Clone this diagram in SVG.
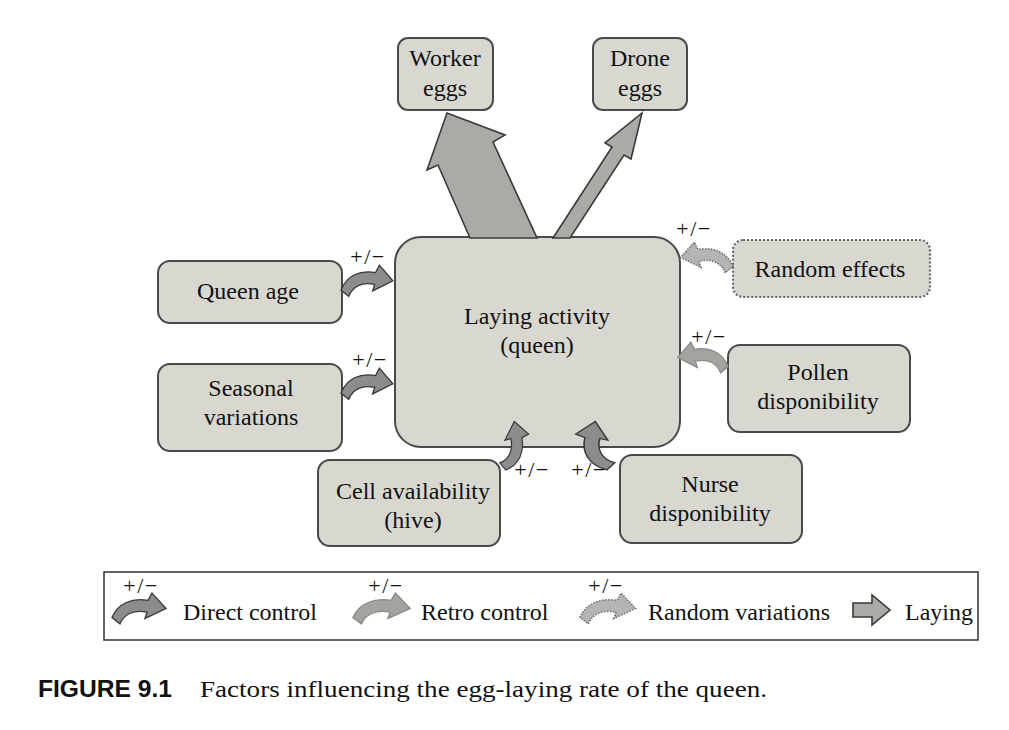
<svg xmlns="http://www.w3.org/2000/svg" width="1009" height="730" viewBox="0 0 1009 730">
<style>
.box{fill:#d8d8d1;stroke:#4a4a4a;stroke-width:2}
.dot{fill:#d8d8d1;stroke:#666;stroke-width:2.2;stroke-dasharray:2 2}
.t{font-family:"Liberation Serif",serif;font-size:24px;fill:#111;text-anchor:middle}
.lt{font-family:"Liberation Serif",serif;font-size:24px;fill:#111}
.pm{font-family:"Liberation Serif",serif;font-size:22px;fill:#111;text-anchor:middle;letter-spacing:1.5px}
.big{fill:#aaaaa6;stroke:#3a3a3a;stroke-width:1.6;stroke-linejoin:miter}
.dc{fill:#8c8c8a;stroke:#3a3a3a;stroke-width:1.4}
.rc{fill:#a3a3a0;stroke:#8a8a88;stroke-width:1.4}
.rv{fill:#b4b4b2;stroke:#6e6e6e;stroke-width:1.8;stroke-dasharray:1.5 1.5}
</style>
<defs>
<path id="ca" d="M0,25 C6,9 20,3 36,6 L40,-2 L54,15 L33,26 L35,19 C22,16 12,21 8,32 Z"/>
</defs>
<rect width="1009" height="730" fill="#fff"/>
<g id="worker-eggs"><rect class="box" x="398" y="38" width="95" height="72" rx="10"/><text class="t" x="445" y="66">Worker</text><text class="t" x="445" y="96">eggs</text></g>
<g id="drone-eggs"><rect class="box" x="593" y="38" width="94" height="72" rx="10"/><text class="t" x="640" y="66">Drone</text><text class="t" x="640" y="96">eggs</text></g>
<g id="laying-activity"><rect class="box" x="395" y="237" width="285" height="210" rx="26"/><text class="t" x="537" y="324">Laying activity</text><text class="t" x="537" y="353">(queen)</text></g>
<g id="queen-age"><rect class="box" x="158" y="261" width="184" height="62" rx="12"/><text class="t" x="248" y="299">Queen age</text></g>
<g id="seasonal-variations"><rect class="box" x="158" y="364" width="184" height="87" rx="12"/><text class="t" x="251" y="396">Seasonal</text><text class="t" x="251" y="425">variations</text></g>
<g id="cell-availability"><rect class="box" x="318" y="460" width="182" height="86" rx="12"/><text class="t" x="413" y="499">Cell availability</text><text class="t" x="413" y="528">(hive)</text></g>
<g id="nurse-disponibility"><rect class="box" x="620" y="455" width="182" height="88" rx="12"/><text class="t" x="710" y="492">Nurse</text><text class="t" x="710" y="521">disponibility</text></g>
<g id="pollen-disponibility"><rect class="box" x="728" y="345" width="182" height="87" rx="12"/><text class="t" x="818" y="380">Pollen</text><text class="t" x="818" y="409">disponibility</text></g>
<g id="random-effects"><rect class="dot" x="733" y="240" width="197" height="57" rx="10"/><text class="t" x="830" y="277">Random effects</text></g>
<g id="connectors">
<polygon class="big" points="470,238 438,165 427,170 447,113 505,135 493,142 537,238"/>
<polygon class="big" points="553,238 612,147 605,143 642,113 631,159 624,155 570,238"/>
<use href="#ca" class="dc" transform="translate(341,267) scale(0.96,0.92)"/>
<use href="#ca" class="dc" transform="translate(341,370) scale(0.96,0.92)"/>
<use href="#ca" class="rv" transform="translate(733,244) scale(-0.97,0.9)"/>
<use href="#ca" class="rc" transform="translate(728,344) scale(-0.93,0.9)"/>
<use href="#ca" class="dc" transform="matrix(0,-0.9,-0.85,0,527,470)"/>
<use href="#ca" class="dc" transform="matrix(0,-0.9,1.15,0,578,470)"/>
<text class="pm" x="532" y="477">+/−</text>
<text class="pm" x="589" y="477">+/−</text>
<text class="pm" x="368" y="264">+/−</text>
<text class="pm" x="370" y="367">+/−</text>
<text class="pm" x="694" y="236">+/−</text>
<text class="pm" x="709" y="344">+/−</text>
</g>
<g id="legend">
<rect x="104" y="572" width="874" height="68" fill="#fff" stroke="#333" stroke-width="1.5"/>
<use href="#ca" class="dc" transform="translate(112,595) scale(1.0,0.9)"/>
<text class="pm" x="141" y="593">+/−</text>
<text class="lt" x="183" y="620">Direct control</text>
<use href="#ca" class="rc" transform="translate(353,595) scale(1.06,0.9)"/>
<text class="pm" x="386" y="593">+/−</text>
<text class="lt" x="421" y="620">Retro control</text>
<use href="#ca" class="rv" transform="translate(580,595) scale(1.03,0.9)"/>
<text class="pm" x="606" y="593">+/−</text>
<text class="lt" x="648" y="620">Random variations</text>
<polygon class="big" points="853,603 872,603 872,595 890,610 872,625 872,617 853,617"/>
<text class="lt" x="905" y="620">Laying</text>
</g>
<g id="caption">
<text x="38" y="697" font-family="Liberation Sans,sans-serif" font-weight="bold" font-size="24" textLength="134" lengthAdjust="spacingAndGlyphs" fill="#111">FIGURE 9.1</text>
<text class="lt" x="200" y="697" textLength="567" lengthAdjust="spacingAndGlyphs">Factors influencing the egg-laying rate of the queen.</text>
</g>
</svg>
